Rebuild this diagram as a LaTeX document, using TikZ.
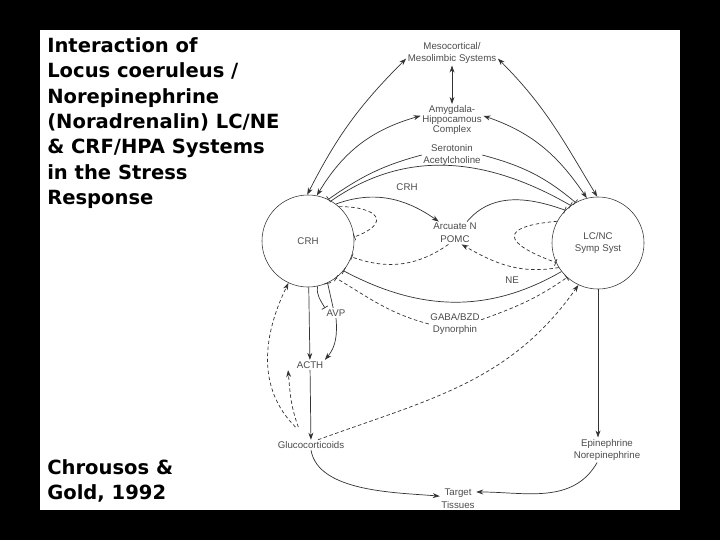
\documentclass[tikz,border=0pt]{standalone}
\usepackage{fontspec}
\setmainfont{Liberation Sans}
\newfontfamily\titlefont{DejaVu Sans}
\usetikzlibrary{arrows.meta}

\begin{document}
\begin{tikzpicture}[
        x=0.025cm, y=-0.025cm,
        every node/.style={font=\fontsize{6.9}{9}\selectfont, text=black!70, align=center, inner sep=1pt},
        hub/.style={draw=black!80, circle, minimum size=2.3cm, inner sep=0pt},
        ar/.style={-{Stealth[length=5pt,width=3.5pt]}, draw=black!80, line width=0.5pt},
        dar/.style={{Stealth[length=5pt,width=3.5pt]}-{Stealth[length=5pt,width=3.5pt]}, draw=black!80, line width=0.5pt},
        inh/.style={-{Bar[width=5pt]}, draw=black!80, line width=0.5pt},
        dsh/.style={dash pattern=on 2.5pt off 1.8pt},
        heading/.style={font=\titlefont\bfseries\fontsize{13.9}{18.1}\selectfont, text=black, align=left, anchor=north west, inner sep=0pt},
    ]

    \fill[black] (0,0) rectangle (720,540);
    \fill[white] (40,30) rectangle (680,510);

    \node[heading](head) at (47,37) {Interaction of\\Locus coeruleus /\\Norepinephrine\\(Noradrenalin) LC/NE\\\& CRF/HPA Systems\\in the Stress\\Response};
    \node[heading](cite) at (47,459) {Chrousos \&\\Gold, 1992};

    \node[hub](crh) at (308,241) {CRH};
    \node[hub](lcnc) at (598,243) {LC/NC\\Symp Syst};
    \node(meso) at (452,53) {Mesocortical/\\Mesolimbic Systems};
    \node(amyg) at (452,120) {Amygdala-\\[-2pt]Hippocamous\\[-2pt]Complex};
    \node(sero) at (452,155) {Serotonin\\Acetylcholine};
    \node(crhlab) at (407,187) {CRH};
    \node(arc) at (455,233) {Arcuate N\\POMC};
    \node(nelab) at (512,280) {NE};
    \node(avp) at (336,313) {AVP};
    \node(gaba) at (455,324) {GABA/BZD\\Dynorphin};
    \node(acth) at (310,365) {ACTH};
    \node(gluco) at (311,445) {Glucocorticoids};
    \node(target) at (458,499) {Target\\Tissues};
    \node(epi) at (607,450) {Epinephrine\\Norepinephrine};

    % upper brain areas
    \draw[dar] (meso) -- (amyg);
    \draw[dar] ([yshift=-4pt]meso.west) to[out=225,in=63] (crh.91);
    \draw[dar] ([yshift=3pt]amyg.west) to[out=196,in=59] (crh.79);
    \draw[dar] ([yshift=-4pt]meso.east) to[out=-45,in=121] (lcnc.91);
    \draw[dar] ([yshift=3pt]amyg.east) to[out=-19,in=124] (lcnc.104);
    \draw[inh] (sero.west) to[out=195,in=35] (crh.64);
    \draw[inh] (sero.east) to[out=-15,in=140] (lcnc.119);

    % between the two centres
    \draw[inh] (crh.60) to[out=35,in=150] (lcnc.126);
    \draw[ar] (crh.53) to[out=20,in=145] ([xshift=5pt]arc.north west);
    \draw[inh] ([xshift=-8pt]arc.north east) to[out=50,in=160] (lcnc.135);
    \draw[inh, dsh] (crh.48) to[out=0,in=20,looseness=3] (crh.5);
    \draw[inh, dsh] (lcnc.152) to[out=185,in=160,looseness=3.6] (lcnc.205);
    \draw[inh, dsh] (arc.240) to[out=215,in=-20] (crh.-20);
    \draw[ar, dsh] (lcnc.212) to[out=190,in=-30] (arc.300);
    \draw[inh] (lcnc.218) to[out=210,in=-28] (crh.-40);
    \draw[inh, dsh] (gaba.west) to[out=165,in=-31] (crh.-53);
    \draw[inh, dsh] ([yshift=3pt]gaba.east) to[out=20,in=215] (lcnc.228);

    % HPA axis
    \path[ar]
    (crh) edge (acth)
    (acth) edge (gluco)
    ;
    \draw[ar] (avp.south) to[out=-85,in=50] (acth.north east);
    \draw[inh] (crh.-78) to[out=-100,in=120] (avp.north west);
    \draw[inh] ([xshift=-2pt]avp.north) -- (crh.-65);
    \draw[ar, dsh] ([xshift=5pt]gluco.north) to[out=20,in=235] (lcnc.245);
    \draw[ar, dsh] ([xshift=-11pt,yshift=9pt]gluco.north) to[out=135,in=244] (crh.-115);
    \draw[ar, dsh] ([xshift=-9pt,yshift=9pt]gluco.north) to[out=110,in=-85] ([xshift=-5pt]acth.south west);
    \draw[ar] (gluco.south) to[out=-80,in=175,looseness=0.8] ([yshift=2pt]target.west);

    % sympathetic side
    \draw[ar] (lcnc.south) -- (lcnc.south |- epi.north);
    \draw[ar] ([xshift=-7pt]epi.south) to[out=240,in=0] ([yshift=5pt]target.east);
\end{tikzpicture}
\end{document}
